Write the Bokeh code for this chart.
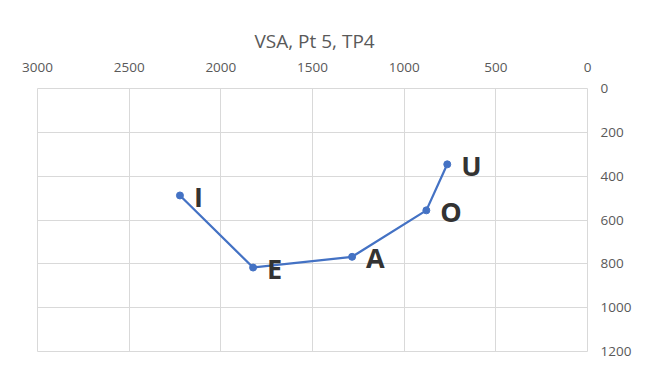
from bokeh.plotting import figure
from bokeh.models import Range1d, FixedTicker, ColumnDataSource
from bokeh.core.properties import value
from bokeh.embed import file_html
from bokeh.resources import INLINE

vowels = ["I", "E", "A", "O", "U"]
f2 = [2223, 1824, 1284, 879, 765]
f1 = [488, 817, 768, 556, 346]
x_ticks = [0, 500, 1000, 1500, 2000, 2500, 3000]
y_ticks = [0, 200, 400, 600, 800, 1000, 1200]

src = ColumnDataSource(dict(x=f2, y=f1, label=vowels))

p = figure(width=634, height=362, output_backend="svg", toolbar_location=None,
           x_range=Range1d(3000, 0), y_range=Range1d(1200, 0),
           x_axis_location="above", y_axis_location="right",
           min_border_left=37, min_border_right=45, min_border_top=88, min_border_bottom=11,
           title="VSA, Pt 5, TP4")

p.title.align = "left"
p.title.offset = 217
p.title.vertical_align = "middle"
p.title.text_font = "Open Sans"
p.title.text_font_size = "19px"
p.title.text_font_style = "normal"
p.title.text_color = "#595959"

p.outline_line_color = "#d9d9d9"
p.outline_line_width = 1

for ax in (p.xaxis[0], p.yaxis[0]):
    ax.axis_line_color = None
    ax.major_tick_line_color = None
    ax.minor_tick_line_color = None
    ax.major_tick_out = 0
    ax.major_tick_in = 0
    ax.major_label_text_font = "Open Sans"
    ax.major_label_text_font_size = "13.5px"
    ax.major_label_text_color = "#595959"

p.xaxis[0].ticker = FixedTicker(ticks=x_ticks)
p.yaxis[0].ticker = FixedTicker(ticks=y_ticks)
p.xaxis[0].major_label_standoff = 17
p.yaxis[0].major_label_standoff = 13

p.xgrid.ticker = FixedTicker(ticks=x_ticks)
p.ygrid.ticker = FixedTicker(ticks=y_ticks)
p.grid.grid_line_color = "#d9d9d9"
p.grid.grid_line_width = 1

p.line("x", "y", source=src, line_color="#4472C4", line_width=2.25)
p.scatter("x", "y", source=src, size=7, fill_color="#4472C4", line_color="#4472C4")
p.text("x", "y", text="label", source=src, x_offset=14, y_offset=1,
       text_font=value("Open Sans"), text_font_style="bold", text_font_size="27px",
       text_color="#333333", text_baseline="middle", text_align="left")

open("out.html", "w").write(file_html(p, INLINE))
